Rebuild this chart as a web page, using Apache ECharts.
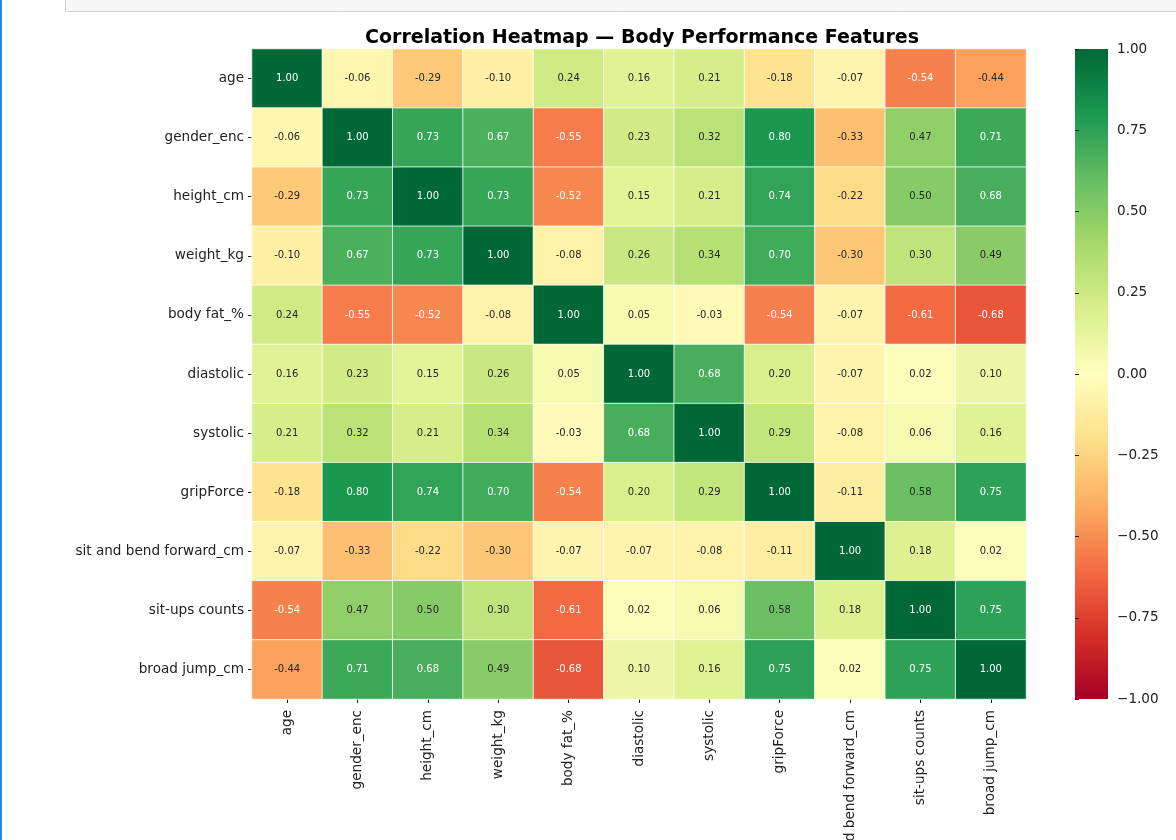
<!DOCTYPE html>
<html>
<head>
<meta charset="utf-8">
<script src="https://cdn.jsdelivr.net/npm/echarts@6/dist/echarts.min.js"></script>
<style>
html,body{margin:0;padding:0;background:#fff;}
#c{width:1176px;height:840px;}
</style>
</head>
<body>
<div id="c"></div>
<script>
const features = ['age','gender_enc','height_cm','weight_kg','body fat_%','diastolic','systolic','gripForce','sit and bend forward_cm','sit-ups counts','broad jump_cm'];

const rowAge        = [1.00, -0.06, -0.29, -0.10, 0.24, 0.16, 0.21, -0.18, -0.07, -0.54, -0.44];
const rowGender     = [-0.06, 1.00, 0.73, 0.67, -0.55, 0.23, 0.32, 0.80, -0.33, 0.47, 0.71];
const rowHeight     = [-0.29, 0.73, 1.00, 0.73, -0.52, 0.15, 0.21, 0.74, -0.22, 0.50, 0.68];
const rowWeight     = [-0.10, 0.67, 0.73, 1.00, -0.08, 0.26, 0.34, 0.70, -0.30, 0.30, 0.49];
const rowBodyFat    = [0.24, -0.55, -0.52, -0.08, 1.00, 0.05, -0.03, -0.54, -0.07, -0.61, -0.68];
const rowDiastolic  = [0.16, 0.23, 0.15, 0.26, 0.05, 1.00, 0.68, 0.20, -0.07, 0.02, 0.10];
const rowSystolic   = [0.21, 0.32, 0.21, 0.34, -0.03, 0.68, 1.00, 0.29, -0.08, 0.06, 0.16];
const rowGrip       = [-0.18, 0.80, 0.74, 0.70, -0.54, 0.20, 0.29, 1.00, -0.11, 0.58, 0.75];
const rowSitBend    = [-0.07, -0.33, -0.22, -0.30, -0.07, -0.07, -0.08, -0.11, 1.00, 0.18, 0.02];
const rowSitUps     = [-0.54, 0.47, 0.50, 0.30, -0.61, 0.02, 0.06, 0.58, 0.18, 1.00, 0.75];
const rowBroadJump  = [-0.44, 0.71, 0.68, 0.49, -0.68, 0.10, 0.16, 0.75, 0.02, 0.75, 1.00];

const colorbarTicks = [-1.00, -0.75, -0.50, -0.25, 0.00, 0.25, 0.50, 0.75, 1.00];

const rows = [rowAge,rowGender,rowHeight,rowWeight,rowBodyFat,rowDiastolic,rowSystolic,rowGrip,rowSitBend,rowSitUps,rowBroadJump];

const rdylgn = ['#a50026','#d73027','#f46d43','#fdae61','#fee08b','#ffffbf','#d9ef8b','#a6d96a','#66bd63','#1a9850','#006837'];

const data = [];
rows.forEach((r, yi) => r.forEach((v, xi) => data.push([xi, yi, v])));

const FONT = 'DejaVu Sans';
const chart = echarts.init(document.getElementById('c'), null, {renderer:'canvas'});

const fmtMinus = v => (v < 0 ? '\u2212' : '') + Math.abs(v).toFixed(2);

chart.setOption({
  backgroundColor: '#fff',
  animation: false,
  title: {
    text: 'Correlation Heatmap \u2014 Body Performance Features',
    left: 637, top: 24, textAlign: 'center',
    textStyle: {fontFamily: FONT, fontWeight: 'bold', fontSize: 19, color: '#000'}
  },
  grid: [
    {left: 252, top: 49, width: 774, height: 650, outerBoundsMode: 'none', containLabel: false},
    {left: 1075, top: 49, width: 33, height: 650, outerBoundsMode: 'none', containLabel: false}
  ],
  xAxis: [
    {
      type: 'category', data: features, gridIndex: 0,
      axisLine: {show: false},
      axisTick: {show: true, alignWithLabel: true, length: 4, lineStyle: {color: '#222'}},
      axisLabel: {rotate: 90, interval: 0, margin: 11, fontFamily: FONT, fontSize: 13.6, color: '#222'},
      splitLine: {show: false}
    },
    {type: 'value', gridIndex: 1, show: false, min: 0, max: 1}
  ],
  yAxis: [
    {
      type: 'category', data: features, gridIndex: 0, inverse: true,
      axisLine: {show: false},
      axisTick: {show: true, alignWithLabel: true, length: 4, lineStyle: {color: '#222'}},
      axisLabel: {interval: 0, margin: 8, fontFamily: FONT, fontSize: 13.6, color: '#222'},
      splitLine: {show: false}
    },
    {
      type: 'value', gridIndex: 1, position: 'right', min: -1, max: 1, interval: 0.25,
      axisLine: {show: false},
      axisTick: {show: true, length: 4, inside: false, lineStyle: {color: '#222'}},
      axisLabel: {margin: 9, fontFamily: FONT, fontSize: 13.6, color: '#222',
        formatter: v => fmtMinus(v)},
      splitLine: {show: false}
    }
  ],
  visualMap: {
    show: false, min: -1, max: 1, seriesIndex: 0, dimension: 2,
    inRange: {color: rdylgn}
  },
  series: [
    {
      type: 'heatmap', xAxisIndex: 0, yAxisIndex: 0, data: data,
      itemStyle: {borderColor: '#ffffff', borderWidth: 0.8},
      label: {
        show: true, fontFamily: FONT, fontSize: 10,
        formatter: p => {
          const v = p.value[2];
          const s = v.toFixed(2);
          return (v >= 0.6 || v <= -0.5) ? '{w|' + s + '}' : '{d|' + s + '}';
        },
        rich: {
          w: {color: '#ffffff', fontFamily: FONT, fontSize: 10},
          d: {color: '#262626', fontFamily: FONT, fontSize: 10}
        }
      },
      emphasis: {disabled: true}
    }
  ],
  graphic: [
    {
      type: 'rect', left: 1075, top: 49, z: 0,
      shape: {width: 33, height: 650},
      style: {fill: new echarts.graphic.LinearGradient(0, 1, 0, 0,
        rdylgn.map((c, i) => ({offset: i / (rdylgn.length - 1), color: c})))}
    },
    {
      type: 'rect', left: 65, top: -2, z: 0,
      shape: {width: 1120, height: 13},
      style: {fill: '#f7f7f7', stroke: '#cfcfcf', lineWidth: 1}
    },
    {
      type: 'rect', left: 0, top: 0, z: 0,
      shape: {width: 2, height: 840},
      style: {fill: '#1e88e5'}
    }
  ]
});
</script>
</body>
</html>
